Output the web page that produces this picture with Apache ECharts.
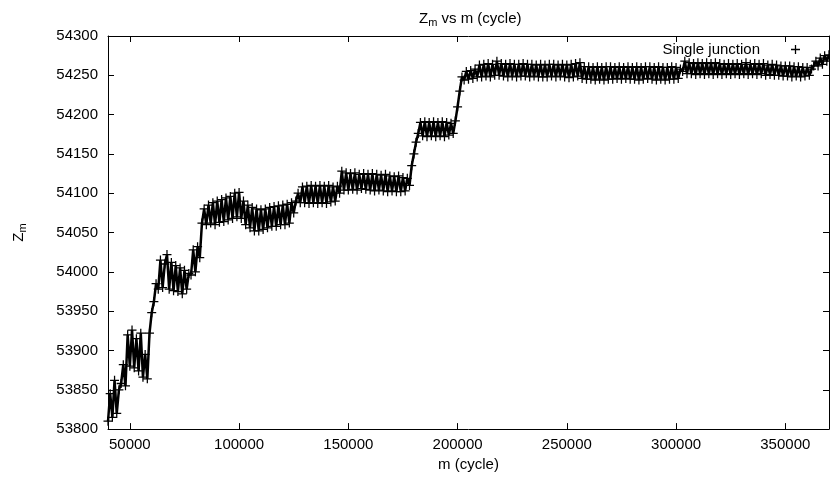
<!DOCTYPE html>
<html>
<head>
<meta charset="utf-8">
<script src="https://cdn.jsdelivr.net/npm/echarts@6/dist/echarts.min.js"></script>
<style>
  html, body { margin: 0; padding: 0; background: #fff; }
  #chart { width: 830px; height: 477px; }
</style>
</head>
<body>
<div id="chart"></div>
<script>
// m (cycle), every 1000 cycles
const cycles = [];
for (let m = 40000; m <= 370000; m += 1000) cycles.push(m);

// Z_m (the band swings between its upper and lower edge)
const zm = [
  53810, 53845, 53815, 53862, 53820, 53850, 53858, 53882, 53855, 53920,
  53880, 53926, 53878, 53915, 53874, 53922, 53866, 53895, 53864, 53922,
  53948, 53962, 53985, 53978, 54015, 53980, 54010, 54022, 53978, 54012,
  53976, 54008, 53975, 54005, 53972, 54002, 53978, 53998, 53996, 54028,
  54000, 54032, 54018, 54062, 54080, 54060, 54085, 54062, 54088, 54060,
  54090, 54063, 54092, 54064, 54094, 54066, 54096, 54068, 54100, 54070,
  54101, 54068, 54090, 54060, 54085, 54056, 54082, 54052, 54080, 54052,
  54079, 54054, 54080, 54056, 54082, 54058, 54083, 54058, 54084, 54060,
  54085, 54060, 54086, 54062, 54088, 54075, 54090, 54100, 54088, 54108,
  54088, 54109, 54087, 54110, 54088, 54109, 54087, 54110, 54088, 54109,
  54087, 54110, 54089, 54108, 54090, 54109, 54100, 54128, 54104, 54126,
  54104, 54125, 54105, 54126, 54104, 54124, 54106, 54125, 54105, 54124,
  54104, 54125, 54103, 54124, 54104, 54123, 54103, 54124, 54102, 54122,
  54103, 54121, 54102, 54122, 54102, 54120, 54103, 54119, 54110, 54135,
  54150, 54165, 54176, 54190, 54173, 54191, 54172, 54190, 54173, 54191,
  54172, 54190, 54173, 54191, 54172, 54190, 54174, 54189, 54176, 54192,
  54210, 54230, 54248, 54244, 54255, 54245, 54256, 54246, 54258, 54248,
  54263, 54248, 54264, 54249, 54265, 54248, 54264, 54250, 54268, 54250,
  54265, 54249, 54264, 54248, 54265, 54249, 54264, 54248, 54264, 54249,
  54265, 54249, 54264, 54248, 54264, 54249, 54263, 54248, 54264, 54248,
  54263, 54248, 54264, 54249, 54264, 54248, 54263, 54249, 54264, 54248,
  54263, 54247, 54264, 54248, 54265, 54249, 54266, 54246, 54261, 54245,
  54261, 54245, 54260, 54244, 54261, 54245, 54260, 54244, 54261, 54245,
  54261, 54245, 54260, 54246, 54261, 54245, 54260, 54246, 54261, 54245,
  54260, 54245, 54261, 54244, 54260, 54245, 54261, 54246, 54261, 54245,
  54260, 54244, 54261, 54245, 54260, 54244, 54260, 54245, 54261, 54245,
  54260, 54246, 54258, 54255, 54268, 54252, 54266, 54252, 54265, 54251,
  54266, 54252, 54265, 54251, 54266, 54252, 54265, 54251, 54266, 54252,
  54265, 54251, 54264, 54252, 54265, 54251, 54264, 54252, 54265, 54251,
  54264, 54252, 54266, 54251, 54264, 54252, 54265, 54251, 54264, 54252,
  54265, 54250, 54263, 54251, 54264, 54250, 54263, 54250, 54262, 54249,
  54262, 54249, 54262, 54248, 54261, 54249, 54261, 54248, 54260, 54249,
  54260, 54250, 54258, 54262, 54268, 54262, 54272, 54264, 54275, 54268, 54276
];

const seriesName = 'Single junction';
const plus = 'path://M4.3,0H5.7V4.3H10V5.7H5.7V10H4.3V5.7H0V4.3H4.3Z';
const font = 'Liberation Sans';

const chart = echarts.init(document.getElementById('chart'));

let points = [];
for (let i = 0; i < cycles.length; i++) {
  points.push([cycles[i], zm[i]]);
}

const axisLine = { show: true, lineStyle: { color: '#000', width: 1 } };
const tick = { show: true, inside: true, length: 6, lineStyle: { color: '#000' } };
const plain = function (v) { return String(v); };

chart.setOption({
  animation: false,
  backgroundColor: '#fff',
  textStyle: { fontFamily: font },
  title: {
    text: '{z|Z}{s|m}{z| vs m (cycle)}',
    left: 414,
    top: 4,
    textStyle: {
      fontWeight: 'normal',
      rich: {
        z: { fontSize: 15, color: '#000', fontFamily: font, fontWeight: 'normal' },
        s: { fontSize: 11, color: '#000', fontFamily: font, fontWeight: 'normal', padding: [8, 0, 0, 0] }
      }
    }
  },
  legend: {
    right: 25,
    top: 37,
    align: 'right',
    itemWidth: 9,
    itemHeight: 9,
    icon: plus,
    formatter: '{a|{name}}',
    textStyle: {
      rich: { a: { fontSize: 15, color: '#000', fontFamily: font, padding: [0, 26, 0, 0] } }
    },
    data: [seriesName]
  },
  grid: { left: 108, right: 1, top: 36, bottom: 45 },
  xAxis: [
    {
      type: 'value',
      min: 40000,
      max: 370000,
      splitNumber: 6,
      name: 'm (cycle)',
      nameLocation: 'middle',
      nameGap: 26,
      nameTextStyle: { fontSize: 15, color: '#000' },
      axisLine: axisLine,
      axisTick: tick,
      splitLine: { show: false },
      axisLabel: { fontSize: 15, color: '#000', margin: 8, showMinLabel: false, showMaxLabel: false, formatter: plain }
    },
    {
      type: 'value',
      position: 'top',
      min: 40000,
      max: 370000,
      splitNumber: 6,
      axisLine: axisLine,
      axisTick: tick,
      splitLine: { show: false },
      axisLabel: { show: false }
    }
  ],
  yAxis: [
    {
      type: 'value',
      min: 53800,
      max: 54300,
      interval: 50,
      name: '{z|Z}{s|m}',
      nameLocation: 'middle',
      nameRotate: 90,
      nameGap: 80,
      nameTextStyle: {
        rich: {
          z: { fontSize: 15, color: '#000', fontFamily: font },
          s: { fontSize: 11, color: '#000', fontFamily: font, padding: [8, 0, 0, 0] }
        }
      },
      axisLine: axisLine,
      axisTick: tick,
      splitLine: { show: false },
      axisLabel: { fontSize: 15, color: '#000', margin: 10, formatter: plain }
    },
    {
      type: 'value',
      position: 'right',
      min: 53800,
      max: 54300,
      interval: 50,
      axisLine: axisLine,
      axisTick: tick,
      splitLine: { show: false },
      axisLabel: { show: false }
    }
  ],
  series: [
    {
      name: seriesName,
      type: 'line',
      data: points,
      symbol: plus,
      symbolSize: 9,
      showSymbol: true,
      itemStyle: { color: '#000' },
      lineStyle: { color: '#000', width: 2.5 },
      emphasis: { disabled: true }
    }
  ]
});
</script>
</body>
</html>
